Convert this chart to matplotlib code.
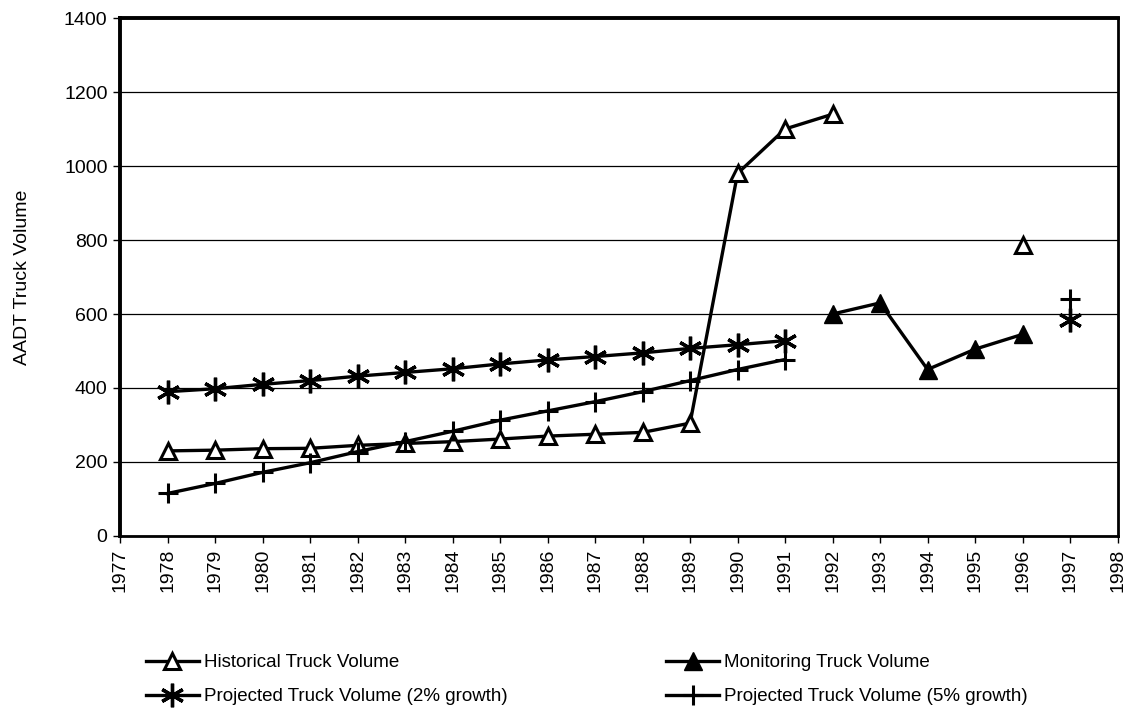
import matplotlib
matplotlib.use("Agg")
import matplotlib.pyplot as plt
import numpy as np

plt.rcParams['font.family'] = ['Liberation Sans', 'DejaVu Sans']

hist_years = [1978, 1979, 1980, 1981, 1982, 1983, 1984, 1985, 1986, 1987, 1988, 1989, 1990, 1991, 1992]
hist_vals = [230, 232, 236, 237, 245, 250, 255, 262, 270, 275, 280, 305, 980, 1100, 1140]
hist_extra_year = [1996]
hist_extra_val = [787]

mon_years = [1992, 1993, 1994, 1995, 1996]
mon_vals = [600, 630, 450, 505, 545]

p2_years = [1978, 1979, 1980, 1981, 1982, 1983, 1984, 1985, 1986, 1987, 1988, 1989, 1990, 1991]
p2_vals = [390, 398, 410, 420, 432, 442, 452, 465, 476, 485, 495, 507, 517, 528]
p2_extra_year = [1997]
p2_extra_val = [585]

p5_years = [1978, 1979, 1980, 1981, 1982, 1983, 1984, 1985, 1986, 1987, 1988, 1989, 1990, 1991]
p5_vals = [115, 142, 172, 198, 228, 255, 283, 313, 338, 363, 390, 420, 450, 477]
p5_extra_year = [1997]
p5_extra_val = [640]

x_ticks = list(range(1977, 1999))
y_ticks = [0, 200, 400, 600, 800, 1000, 1200, 1400]

fig = plt.figure(figsize=(11.24, 7.12), dpi=100)
ax = fig.add_axes([0.1068, 0.2472, 0.8875, 0.7275])

lw = 2.4
ms = 12
asterisk = (6, 2, 0)

h1, = ax.plot(hist_years, hist_vals, color='black', lw=lw, marker='^', ms=ms,
              mfc='white', mec='black', mew=2.2, label='Historical Truck Volume')
ax.plot(hist_extra_year, hist_extra_val, ls='none', marker='^', ms=ms,
        mfc='white', mec='black', mew=2.2)
h2, = ax.plot(mon_years, mon_vals, color='black', lw=lw, marker='^', ms=ms + 1,
              mfc='black', mec='black', label='Monitoring Truck Volume')
h3, = ax.plot(p2_years, p2_vals, color='black', lw=lw, marker=asterisk, ms=17,
              mew=2.4, label='Projected Truck Volume (2% growth)')
ax.plot(p2_extra_year, p2_extra_val, ls='none', color='black', marker=asterisk,
        ms=17, mew=2.4)
h4, = ax.plot(p5_years, p5_vals, color='black', lw=lw, marker='+', ms=15,
              mew=2.2, label='Projected Truck Volume (5% growth)')
ax.plot(p5_extra_year, p5_extra_val, ls='none', color='black', marker='+',
        ms=15, mew=2.2)

ax.set_xlim(1977, 1998)
ax.set_ylim(0, 1400)
ax.set_xticks(x_ticks)
ax.set_xticklabels([str(y) for y in x_ticks], rotation=90, fontsize=14)
ax.set_yticks(y_ticks)
ax.set_yticklabels([str(v) for v in y_ticks], fontsize=14)
ax.yaxis.grid(True, color='black', lw=0.9)
ax.set_axisbelow(True)
ax.tick_params(axis='both', direction='out', length=5, width=1, colors='black', pad=4)
for side in ['left', 'top']:
    ax.spines[side].set_linewidth(2.8)
for side in ['right', 'bottom']:
    ax.spines[side].set_linewidth(2)
ax.set_ylabel('AADT Truck Volume', fontsize=14, labelpad=24)

fig.legend(handles=[h1, h3, h2, h4], ncol=2, loc='lower left',
           bbox_to_anchor=(0.115, -0.014), frameon=False, fontsize=13.5,
           handlelength=2.8, handletextpad=0.3, columnspacing=8.45,
           labelspacing=0.9)

fig.savefig('out.png', dpi=100)
